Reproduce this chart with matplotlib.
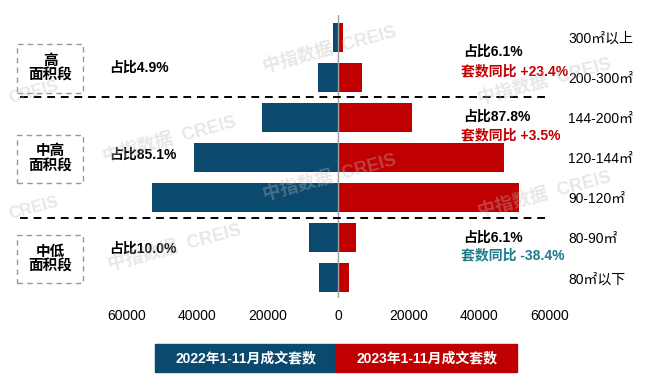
import numpy as np
import matplotlib
matplotlib.use('Agg')
import matplotlib.pyplot as plt
from matplotlib.patches import Rectangle

plt.rcParams['font.family'] = ['Liberation Sans', 'Noto Sans CJK SC', 'DejaVu Sans']

# 数据
categorias = ['300㎡以上', '200-300㎡', '144-200㎡', '120-144㎡', '90-120㎡', '80-90㎡', '80㎡以下']
v2022 = [1400, 5700, 21600, 40900, 52800, 8200, 5400]
v2023 = [1400, 6800, 21000, 47100, 51400, 5100, 3100]
ticks = [-60000, -40000, -20000, 0, 20000, 40000, 60000]
grupos = ['高\n面积段', '中高\n面积段', '中低\n面积段']
zhanbi_22 = ['占比4.9%', '占比85.1%', '占比10.0%']
zhanbi_23 = ['占比6.1%', '占比87.8%', '占比6.1%']
tongbi = ['套数同比 +23.4%', '套数同比 +3.5%', '套数同比 -38.4%']
serie_nombres = ['2022年1-11月成文套数', '2023年1-11月成文套数']

azul = '#0b4a6e'
rojo = '#c00000'
teal = '#1f7c8a'

W, H = 650, 387
fig = plt.figure(figsize=(6.5, 3.87), dpi=100)

def fx(px):
    return px / W

def fy(py):
    return 1 - py / H

# escala: 0 en px 338, 20000 cada 70.5 px
ax = fig.add_axes([fx(20), fy(298), fx(560) - fx(20), fy(15) - fy(298)])
ax.set_facecolor('none')
esc = 20000 / 70.5
ax.set_xlim(-(338 - 20) * esc, (560 - 338) * esc)
ax.set_ylim(6.5, -0.55)

y = np.arange(len(categorias))
ax.barh(y, [-v for v in v2022], height=0.72, color=azul, zorder=2)
ax.barh(y, v2023, height=0.72, color=rojo, zorder=2)
ax.axvline(0, color='#a0a0a0', lw=1, zorder=3)

# separadores
ax.hlines([1.5, 4.5], -(338 - 20) * esc, (547 - 338) * esc, colors='black',
          linestyles=(0, (4, 3)), lw=1.4, zorder=3)

for s in ax.spines.values():
    s.set_visible(False)
ax.set_xticks(ticks)
ax.set_xticklabels([str(abs(t)) for t in ticks], fontsize=10)
ax.tick_params(axis='x', length=0, pad=8)
ax.set_yticks(y)
ax.set_yticklabels(categorias, fontsize=10)
ax.yaxis.tick_right()
ax.tick_params(axis='y', length=0, pad=6)

# cajas de grupos
cajas_y = [(44, 93), (135, 183), (235, 283)]
for (y0, y1), g in zip(cajas_y, grupos):
    fig.add_artist(Rectangle((fx(17), fy(y1)), fx(83) - fx(17), fy(y0) - fy(y1),
                             transform=fig.transFigure, fill=False, edgecolor='#999999',
                             lw=1, linestyle=(0, (4, 3))))
    fig.text(fx(50), fy((y0 + y1) / 2), g, ha='center', va='center', fontsize=10.5,
             fontweight='bold', linespacing=1.1)

# textos izquierda
for t, py in zip(zhanbi_22, [68, 155, 249]):
    fig.text(fx(109), fy(py), t, ha='left', va='center', fontsize=10, fontweight='bold')

# textos derecha
for t, py in zip(zhanbi_23, [52, 117, 238]):
    fig.text(fx(463), fy(py), t, ha='left', va='center', fontsize=10, fontweight='bold')
for t, py, c in zip(tongbi, [71, 135, 255], [rojo, rojo, teal]):
    fig.text(fx(461), fy(py), t, ha='left', va='center', fontsize=10, fontweight='bold', color=c)

# leyenda
for (x0, x1), c, t in zip([(155, 336), (336, 517)], [azul, rojo], serie_nombres):
    fig.add_artist(Rectangle((fx(x0), fy(372)), fx(x1) - fx(x0), fy(344) - fy(372),
                             transform=fig.transFigure, color=c))
    fig.text(fx((x0 + x1) / 2), fy(358), t, ha='center', va='center', fontsize=10,
             fontweight='bold', color='white')

# marcas de agua
for px, py in [(170, 140), (545, 82), (545, 195), (175, 248), (330, 50), (330, 178)]:
    fig.text(fx(px), fy(py), '中指数据  CREIS', ha='center', va='center', fontsize=13,
             fontweight='bold', color='#bbbbbb', alpha=0.35, rotation=15, zorder=5)
for px, py in [(34, 92), (34, 208)]:
    fig.text(fx(px), fy(py), 'CREIS', ha='center', va='center', fontsize=12,
             fontweight='bold', color='#bbbbbb', alpha=0.35, rotation=15, zorder=5)

fig.savefig('out.png', dpi=100)
